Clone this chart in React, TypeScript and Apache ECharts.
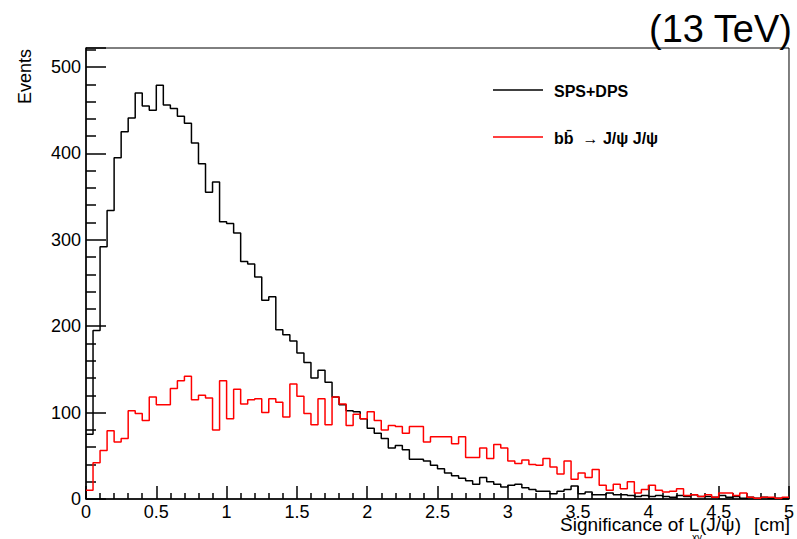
import React, { useEffect, useRef } from "react";
import * as echarts from "echarts";

// Histogram: 100 bins of width 0.05 from 0 to 5
const BIN_WIDTH = 0.05;
const X_MIN = 0;
const X_MAX = 5;
const Y_MAX = 522;

const seriesNames = ["SPS+DPS", "bb\u0304  \u2192 J/\u03c8 J/\u03c8"];

const spsDps = [
  75, 195, 292, 334, 395, 425, 441, 470, 455, 450,
  479, 456, 452, 443, 435, 412, 388, 355, 367, 321,
  319, 308, 275, 272, 257, 230, 234, 196, 190, 183,
  169, 158, 140, 149, 135, 118, 109, 102, 101, 93,
  82, 76, 70, 59, 62, 57, 46, 46, 44, 39,
  35, 30, 27, 24, 21, 17, 25, 20, 17, 14,
  16, 17, 13, 11, 9, 9, 6, 9, 11, 15,
  6, 8, 5, 5, 7, 5, 5, 4, 3, 4,
  3, 4, 3, 2, 4, 3, 5, 3, 3, 2,
  4, 2, 3, 1, 2, 1, 2, 1, 1, 0,
];

const bbbar = [
  10, 42, 56, 79, 66, 70, 102, 99, 91, 118,
  109, 109, 128, 137, 142, 115, 120, 117, 80, 137,
  93, 127, 110, 115, 116, 100, 116, 112, 95, 133,
  119, 99, 86, 116, 86, 118, 110, 85, 98, 93,
  101, 91, 80, 85, 84, 76, 84, 84, 66, 72,
  72, 72, 64, 72, 48, 48, 59, 47, 63, 59,
  44, 41, 45, 40, 39, 47, 37, 29, 44, 23,
  30, 25, 34, 16, 10, 17, 12, 20, 7, 11,
  16, 10, 8, 9, 12, 4, 5, 3, 5, 2,
  7, 7, 4, 7, 2, 1, 2, 2, 1, 2,
];

const FONT = "'Liberation Sans', Arial, Helvetica, sans-serif";

function toSteps(values: number[]): [number, number][] {
  const pts: [number, number][] = values.map((v, i) => [
    +(X_MIN + i * BIN_WIDTH).toFixed(4),
    v,
  ]);
  pts.push([X_MAX, values[values.length - 1]]);
  return pts;
}

function txt(x: number, y: number, text: string, font: string, align = "left", fill = "#000") {
  return {
    type: "text",
    x,
    y,
    style: { text, fill, font, textAlign: align, textVerticalAlign: "middle" },
  };
}

export default function App() {
  const ref = useRef<HTMLDivElement>(null);

  useEffect(() => {
    if (!ref.current) return;
    const chart = echarts.init(ref.current, undefined, { renderer: "svg" });
    chart.setOption({
      animation: false,
      backgroundColor: "#ffffff",
      grid: {
        left: 86,
        right: 6,
        top: 48,
        bottom: 40,
        show: true,
        borderColor: "#000",
        borderWidth: 1,
        backgroundColor: "transparent",
      },
      xAxis: {
        type: "value",
        min: X_MIN,
        max: X_MAX,
        interval: 0.5,
        axisLine: { show: true, onZero: false, lineStyle: { color: "#000", width: 1.5 } },
        axisTick: { show: true, inside: true, length: 13, lineStyle: { color: "#000", width: 1.5 } },
        minorTick: { show: true, splitNumber: 5, length: 6, lineStyle: { color: "#000", width: 1.5 } },
        splitLine: { show: false },
        axisLabel: {
          color: "#000",
          fontSize: 18,
          fontFamily: FONT,
          margin: 4,
          showMaxLabel: true,
          showMinLabel: true,
        },
      },
      yAxis: {
        type: "value",
        min: 0,
        max: Y_MAX,
        interval: 100,
        axisLine: { show: true, onZero: false, lineStyle: { color: "#000", width: 1.5 } },
        axisTick: { show: true, inside: true, length: 20, lineStyle: { color: "#000", width: 1.5 } },
        minorTick: { show: true, splitNumber: 5, length: 10, lineStyle: { color: "#000", width: 1.5 } },
        splitLine: { show: false },
        axisLabel: {
          color: "#000",
          fontSize: 18,
          fontFamily: FONT,
          margin: 5,
          showMaxLabel: false,
        },
      },
      series: [
        {
          name: seriesNames[0],
          type: "line",
          step: "end",
          symbol: "none",
          data: toSteps(spsDps),
          lineStyle: { color: "#000000", width: 1.5 },
          itemStyle: { color: "#000000" },
        },
        {
          name: seriesNames[1],
          type: "line",
          step: "end",
          symbol: "none",
          data: toSteps(bbbar),
          lineStyle: { color: "#ff0000", width: 1.5 },
          itemStyle: { color: "#ff0000" },
        },
      ],
      graphic: [
        // Legend
        {
          type: "line",
          shape: { x1: 493, y1: 90, x2: 543, y2: 90 },
          style: { stroke: "#000", lineWidth: 1.5 },
        },
        txt(554, 91, seriesNames[0], `bold 16px ${FONT}`),
        {
          type: "line",
          shape: { x1: 493, y1: 137, x2: 543, y2: 137 },
          style: { stroke: "#ff0000", lineWidth: 1.5 },
        },
        txt(554, 138, seriesNames[1], `bold 16px ${FONT}`),
        // Energy label
        txt(792, 29, "(13 TeV)", `38px ${FONT}`, "right"),
        // Y axis title
        {
          type: "text",
          x: 25,
          y: 49,
          rotation: Math.PI / 2,
          style: {
            text: "Events",
            fill: "#000",
            font: `18px ${FONT}`,
            textAlign: "right",
            textVerticalAlign: "middle",
          },
        },
        // X axis title pieces
        txt(560, 524, "Significance of L", `19px ${FONT}`),
        txt(692, 537, "xy", `10px ${FONT}`),
        txt(700, 524, "(J/\u03c8)", `19px ${FONT}`),
        txt(790, 524, "[cm]", `19px ${FONT}`, "right"),
      ],
    });
    return () => chart.dispose();
  }, []);

  return (
    <div
      ref={ref}
      style={{ position: "fixed", left: 0, top: 0, width: 797, height: 539, background: "#fff" }}
    />
  );
}
